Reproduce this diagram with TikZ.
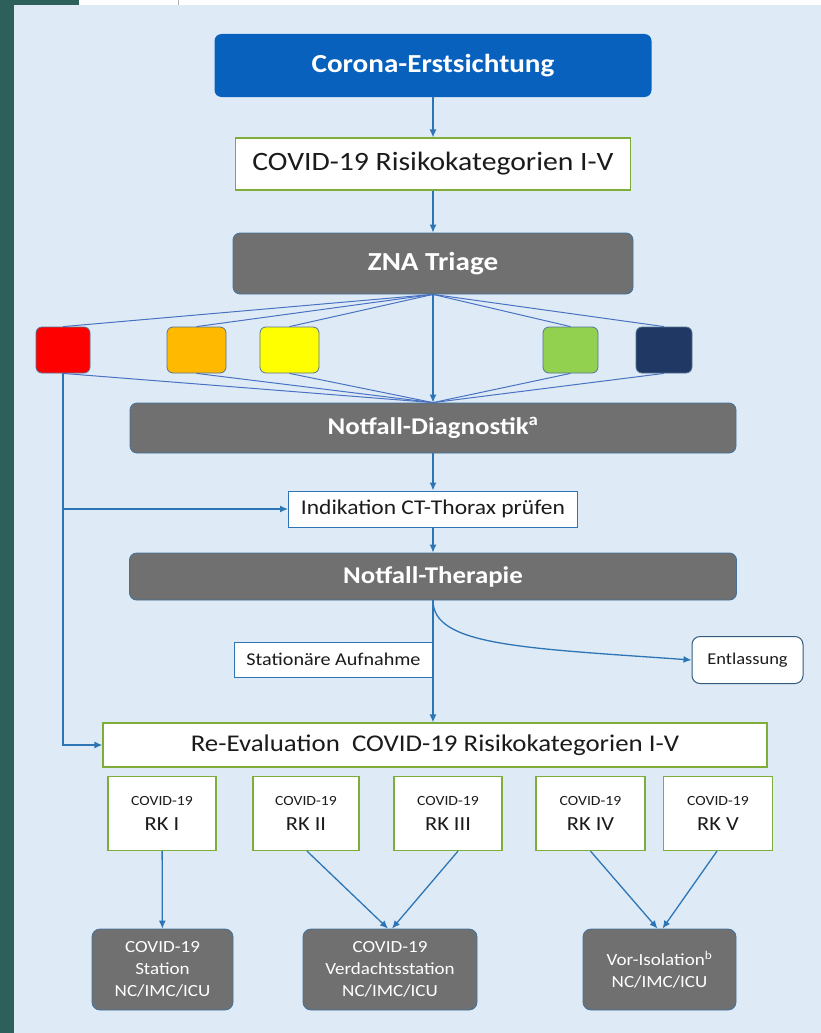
\documentclass[tikz,border=0pt]{standalone}
\usepackage{fontspec}
\setmainfont{Carlito}[FakeStretch=1.12]
\usetikzlibrary{arrows.meta}
\definecolor{bgblue}{HTML}{DEEBF7}
\definecolor{edgeteal}{HTML}{2D5F5B}
\definecolor{hdblue}{HTML}{0862BD}
\definecolor{boxgray}{HTML}{707070}
\definecolor{rimblue}{HTML}{41719C}
\definecolor{arrblue}{HTML}{2E75B6}
\definecolor{fanblue}{HTML}{4A72C2}
\definecolor{rimgreen}{HTML}{7EAD3A}
\definecolor{ink}{HTML}{1B1B1B}
\definecolor{triRed}{HTML}{FF0000}
\definecolor{triOrange}{HTML}{FFBA00}
\definecolor{triYellow}{HTML}{FFFF00}
\definecolor{triGreen}{HTML}{92D050}
\definecolor{triNavy}{HTML}{1F3864}

\begin{document}
\begin{tikzpicture}[x=1pt,y=-1pt,>={Latex[length=8pt,width=7pt]},
  hdbox/.style={rounded corners=7pt,fill=hdblue,text=white,font=\bfseries\fontsize{26}{31}\selectfont},
  graybox/.style={rounded corners=7pt,fill=boxgray,draw=rimblue,line width=0.8pt,text=white,font=\bfseries\fontsize{24}{28}\selectfont},
  wardbox/.style={rounded corners=8pt,fill=boxgray,draw=rimblue,line width=0.8pt,text=white,align=center,font=\fontsize{17}{22}\selectfont,minimum height=81},
  greenbox/.style={fill=white,draw=rimgreen,line width=1.2pt,text=ink},
  bluerim/.style={fill=white,draw=arrblue,line width=1pt,text=ink},
  colbox/.style={rounded corners=6pt,draw=rimblue!70!gray,line width=0.8pt,minimum height=46},
  rkbox/.style={greenbox,align=center,minimum height=74,font=\fontsize{20}{25}\selectfont},
  arr/.style={->,arrblue,line width=1.3pt},
  fan/.style={fanblue,line width=1pt}]
\useasboundingbox (0,0) rectangle (821,1033);
\fill[bgblue] (14,5) rectangle (821,1033);
\fill[white] (79,0) rectangle (821,5);
\fill[edgeteal] (0,0) rectangle (14,1033); \fill[edgeteal] (0,0) rectangle (79,5);
\draw[gray!60,line width=1pt] (178,0)--(178,5);

\node[hdbox,minimum width=437,minimum height=63] (ces) at (433,65.5) {Corona-Erstsichtung};
\node[greenbox,minimum width=395,minimum height=52,font=\fontsize{26.5}{31}\selectfont] (rkcat) at (433,164) {COVID-19 Risikokategorien I-V};
\node[graybox,minimum width=400,minimum height=61,font=\bfseries\fontsize{26}{31}\selectfont] (zna) at (433,263.5) {ZNA Triage};
\foreach \n/\c/\x/\w in {red/triRed/63/54,orange/triOrange/196.5/59,yellow/triYellow/289.5/59,green/triGreen/570.5/55,navy/triNavy/664/56}{
  \node[colbox,fill=\c,minimum width=\w] (\n) at (\x,350) {};}
\node[graybox,minimum width=606,minimum height=50] (diag) at (433,428) {Notfall-Diagnostik\textsuperscript{a}};
\node[bluerim,minimum width=289,minimum height=36,font=\fontsize{21}{25}\selectfont] (ct) at (433,509) {Indikation CT-Thorax prüfen};
\node[graybox,minimum width=607,minimum height=47] (ther) at (433,576.5) {Notfall-Therapie};
\node[bluerim,anchor=east,minimum width=198,minimum height=35,font=\fontsize{18}{21}\selectfont] (stat) at (433,659.5) {Stationäre Aufnahme};
\node[bluerim,draw=rimblue!80!black,rounded corners=8pt,minimum width=111,minimum height=47,font=\fontsize{16.5}{20}\selectfont] (entl) at (747.5,660) {Entlassung};
\node[greenbox,minimum width=664,minimum height=44,font=\fontsize{24}{29}\selectfont] (reev) at (435,745) {Re-Evaluation\ \ COVID-19 Risikokategorien I-V};
\foreach \n/\x/\w/\lab in {rk1/162/108/RK I,rk2/306/106/RK II,rk3/448/108/RK III,rk4/590.5/109/RK IV,rk5/718/109/RK V}{
  \node[rkbox,minimum width=\w] (\n) at (\x,813.5) {{\fontsize{14}{17}\selectfont COVID-19}\\\lab};}
\node[wardbox,minimum width=141] (st1) at (162.5,969.5) {COVID-19\\Station\\NC/IMC/ICU};
\node[wardbox,minimum width=174] (st2) at (390,969.5) {COVID-19\\Verdachtsstation\\NC/IMC/ICU};
\node[wardbox,minimum width=153] (st3) at (659.5,969.5) {Vor-Isolation\textsuperscript{b}\\NC/IMC/ICU};

\draw[arr] (ces) -- (rkcat);
\draw[arr] (rkcat) -- (zna);
\foreach \n in {red,orange,yellow,green,navy}{\draw[fan] (zna.south) -- (\n.north); \draw[fan] (\n.south) -- (diag.north);}
\draw[arr] (zna.south) -- (diag.north);
\draw[arr] (diag) -- (ct);
\draw[arr] (ct) -- (ther);
\draw[arr] (red.south) |- (reev.west);
\draw[arr] (red.south |- ct.west) -- (ct.west);
\draw[arr] (ther.south) -- (ther.south |- reev.north);
\draw[arr] (ther.south) .. controls +(0,45) and +(-170,-12) .. (entl.west);
\draw[arr] (rk1) -- (st1);
\draw[arr] ([xshift=1pt]rk2.south) -- ([xshift=-2pt]st2.north);
\draw[arr] ([xshift=10pt]rk3.south) -- ([xshift=2pt]st2.north);
\draw[arr] (rk4.south) -- ([xshift=-2pt]st3.north);
\draw[arr] ([xshift=-1pt]rk5.south) -- ([xshift=3pt]st3.north);
\end{tikzpicture}
\end{document}
